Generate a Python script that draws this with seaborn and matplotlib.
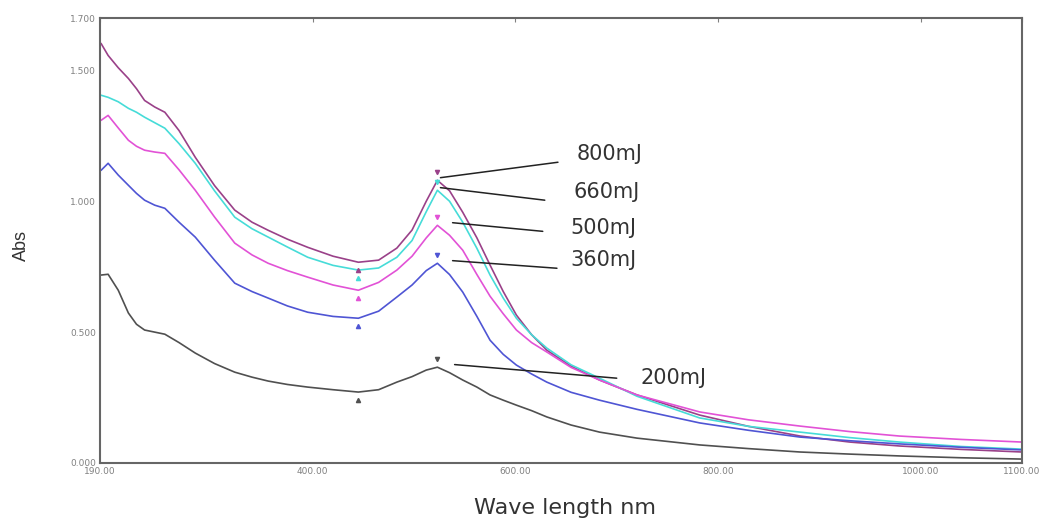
import numpy as np
import pandas as pd
import matplotlib
matplotlib.use("Agg")
import matplotlib.pyplot as plt
import seaborn as sns

# UV-Vis spectra
wavelength = [191, 198, 208, 218, 226, 234, 244, 254, 268, 284, 303, 323, 340, 356,
              375, 395, 420, 445, 465, 483, 498, 512, 523, 535, 548, 562, 575, 588,
              601, 616, 631, 655, 683, 720, 782, 830, 881, 930, 979, 1040, 1100]

abs_800 = [1.603, 1.557, 1.51, 1.469, 1.43, 1.385, 1.36, 1.34, 1.27, 1.168, 1.06, 0.966,
           0.92, 0.889, 0.855, 0.824, 0.79, 0.767, 0.775, 0.821, 0.89, 1.00, 1.08, 1.04,
           0.958, 0.86, 0.756, 0.655, 0.565, 0.49, 0.431, 0.37, 0.317, 0.26, 0.183,
           0.14, 0.103, 0.08, 0.065, 0.052, 0.042]
abs_660 = [1.405, 1.397, 1.38, 1.355, 1.34, 1.321, 1.30, 1.279, 1.22, 1.145, 1.04, 0.939,
           0.895, 0.863, 0.825, 0.786, 0.755, 0.737, 0.745, 0.786, 0.85, 0.96, 1.042,
           1.00, 0.92, 0.82, 0.718, 0.63, 0.553, 0.49, 0.439, 0.375, 0.324, 0.255,
           0.172, 0.14, 0.118, 0.097, 0.080, 0.063, 0.053]
abs_500 = [1.309, 1.328, 1.28, 1.233, 1.21, 1.195, 1.188, 1.183, 1.12, 1.042, 0.94, 0.840,
           0.795, 0.763, 0.735, 0.710, 0.68, 0.660, 0.69, 0.737, 0.79, 0.86, 0.908,
           0.87, 0.813, 0.72, 0.637, 0.57, 0.508, 0.46, 0.424, 0.365, 0.317, 0.26,
           0.195, 0.165, 0.141, 0.12, 0.103, 0.09, 0.080]
abs_360 = [1.118, 1.145, 1.10, 1.061, 1.03, 1.004, 0.985, 0.973, 0.92, 0.863, 0.775, 0.687,
           0.655, 0.630, 0.60, 0.576, 0.56, 0.553, 0.58, 0.634, 0.68, 0.735, 0.763,
           0.72, 0.653, 0.56, 0.469, 0.415, 0.374, 0.34, 0.309, 0.27, 0.240, 0.205,
           0.153, 0.125, 0.099, 0.085, 0.073, 0.060, 0.050]
abs_200 = [0.718, 0.721, 0.66, 0.573, 0.53, 0.508, 0.50, 0.492, 0.46, 0.420, 0.38, 0.347,
           0.328, 0.313, 0.30, 0.290, 0.28, 0.271, 0.28, 0.309, 0.33, 0.355, 0.366,
           0.345, 0.317, 0.29, 0.260, 0.24, 0.221, 0.20, 0.176, 0.145, 0.118, 0.095,
           0.069, 0.055, 0.042, 0.034, 0.027, 0.02, 0.015]

energies = ["800mJ", "660mJ", "500mJ", "360mJ", "200mJ"]
colors = ["#9a4189", "#46dcd8", "#e252d6", "#4f55d4", "#505050"]

xticks = [190, 400, 600, 800, 1000, 1100]
yticks = [0.0, 0.5, 1.0, 1.5, 1.7]

# where the callout text sits (data coords)
label_pos = [(660, 1.18), (657, 1.035), (654, 0.897), (654, 0.775), (723, 0.324)]
line_end = [(642, 1.149), (629, 1.004), (627, 0.885), (641, 0.744), (700, 0.324)]
line_dx = [3, 3, 15, 15, 17]

series = [abs_800, abs_660, abs_500, abs_360, abs_200]
df = pd.concat([pd.DataFrame({"wavelength": wavelength, "abs": s, "energy": e})
                for s, e in zip(series, energies)], ignore_index=True)

sns.set_style("white")
fig = plt.figure(figsize=(10.44, 5.19), dpi=100)
ax = fig.add_axes([0.0958, 0.1079, 0.8831, 0.8574])

sns.lineplot(data=df, x="wavelength", y="abs", hue="energy", hue_order=energies,
             palette=dict(zip(energies, colors)), estimator=None, legend=False,
             linewidth=1.2, ax=ax)

# small peak / valley pick markers
wl = np.array(wavelength)
for s, c in zip(series, colors):
    s = np.array(s)
    pk = np.argmax(np.where((wl > 480) & (wl < 560), s, -1))
    vl = np.argmin(np.where((wl > 400) & (wl < 480), s, 9))
    ax.plot(wl[pk], s[pk] + 0.03, marker="v", ms=3, color=c)
    ax.plot(wl[vl], s[vl] - 0.03, marker="^", ms=3, color=c)

# callouts
for i, e in enumerate(energies):
    s = np.array(series[i])
    pk = np.argmax(np.where((wl > 480) & (wl < 560), s, -1))
    ax.annotate("", xy=(wl[pk] + line_dx[i], s[pk] + 0.01), xytext=line_end[i],
                arrowprops=dict(arrowstyle="-", color="#222222", lw=1.1,
                                shrinkA=0, shrinkB=0))
    ax.text(label_pos[i][0], label_pos[i][1], e, fontsize=15, color="#333333",
            family="DejaVu Sans", va="center", ha="left")

ax.set_xlim(190, 1100)
ax.set_ylim(0, 1.7)
ax.set_xticks(xticks)
ax.set_xticklabels([f"{t:.2f}" for t in xticks])
ax.set_yticks(yticks)
ax.set_yticklabels([f"{t:.3f}" for t in yticks])
ax.tick_params(direction="in", length=3, width=0.8, colors="#808080",
               labelsize=6.5, top=True, right=False, pad=3)
for sp in ax.spines.values():
    sp.set_color("#666666")
    sp.set_linewidth(1.5)

ax.set_xlabel("Wave length nm", fontsize=16, color="#333333", family="DejaVu Sans")
ax.set_ylabel("Abs", fontsize=13, color="#333333", family="Liberation Sans")
ax.xaxis.set_label_coords(0.504, -0.079)
ax.yaxis.set_label_coords(-0.076, 0.488)
ax.xaxis.label.set_va("top")

fig.savefig("out.png", dpi=100)
